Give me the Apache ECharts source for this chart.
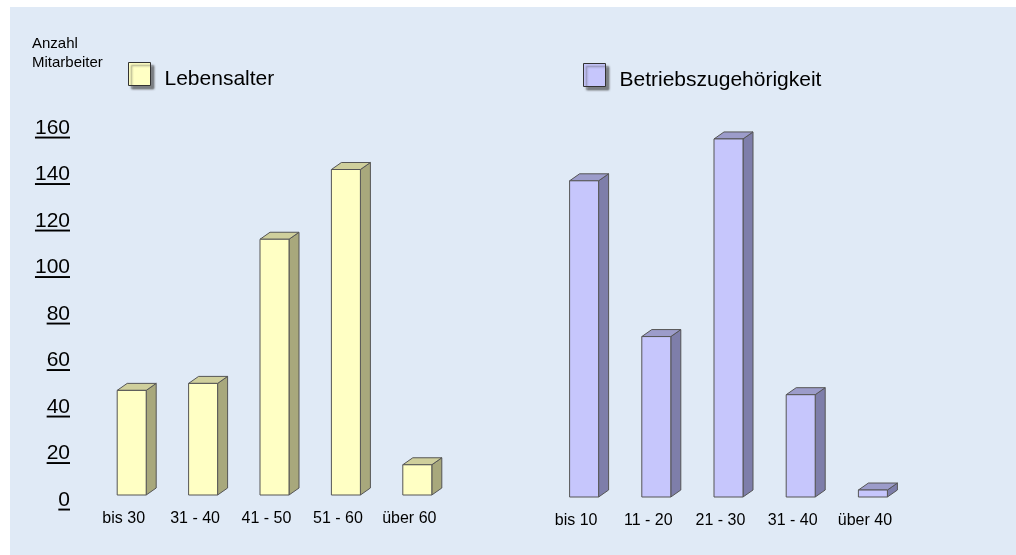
<!DOCTYPE html>
<html>
<head>
<meta charset="utf-8">
<script src="https://cdn.jsdelivr.net/npm/echarts@6/dist/echarts.min.js"></script>
<style>
  html, body { margin: 0; padding: 0; background: #fff; }
  #chart { width: 1016px; height: 555px; }
</style>
</head>
<body>
<div id="chart"></div>
<script>
// data
const ageCategories = ['bis 30', '31 - 40', '41 - 50', '51 - 60', 'über 60'];
const ageValues = [45, 48, 110, 140, 13];
const tenureCategories = ['bis 10', '11 - 20', '21 - 30', '31 - 40', 'über 40'];
const tenureValues = [136, 69, 154, 44, 3];
const yTicks = [0, 20, 40, 60, 80, 100, 120, 140, 160];

const FONT = 'Arial, "Liberation Sans", sans-serif';

// small canvas used as an underline background for the y labels
let underline = document.createElement('canvas');
underline.width = 8;
underline.height = 22;
let uctx = underline.getContext('2d');
uctx.fillStyle = '#000';
uctx.fillRect(0, 20, 8, 2);

// 3d bar: front face, top face, right side
function bar3D(colors) {
  return function (params, api) {
    let base = api.coord([api.value(0), 0]);
    let top = api.coord([api.value(0), api.value(1)]);
    let w = 29, dx = 10, dy = 7;
    let x0 = base[0] - w / 2, x1 = base[0] + w / 2;
    let yb = base[1], yt = top[1];
    let stroke = { stroke: '#555', lineWidth: 1 };
    return {
      type: 'group',
      children: [
        {
          type: 'polygon',
          shape: { points: [[x1, yt], [x1 + dx, yt - dy], [x1 + dx, yb - dy], [x1, yb]] },
          style: Object.assign({ fill: colors.side }, stroke)
        },
        {
          type: 'polygon',
          shape: { points: [[x0, yt], [x0 + dx, yt - dy], [x1 + dx, yt - dy], [x1, yt]] },
          style: Object.assign({ fill: colors.top }, stroke)
        },
        {
          type: 'rect',
          shape: { x: x0, y: yt, width: w, height: yb - yt },
          style: Object.assign({ fill: colors.front }, stroke)
        }
      ]
    };
  };
}

const yellow = { front: '#ffffc4', top: '#cfcf9c', side: '#a8a87c' };
const purple = { front: '#c6c6fc', top: '#9c9cca', side: '#7e7eaa' };

let myChart = echarts.init(document.getElementById('chart'));

let yAxisBase = {
  type: 'value',
  min: 0,
  max: 160,
  interval: 20,
  axisLine: { show: false },
  axisTick: { show: false },
  splitLine: { show: false }
};

let xAxisBase = {
  type: 'category',
  axisLine: { show: false },
  axisTick: { show: false },
  axisLabel: {
    color: '#000',
    fontFamily: FONT,
    fontSize: 16,
    margin: 16,
    padding: [0, 16, 0, 0]
  }
};

let legendBase = {
  orient: 'horizontal',
  icon: 'rect',
  itemWidth: 22,
  itemHeight: 23,
  selectedMode: false,
  formatter: function (name) { return '{t|' + name + '}'; },
  textStyle: {
    color: '#000',
    fontFamily: FONT,
    fontSize: 21,
    rich: {
      t: { color: '#000', fontFamily: FONT, fontSize: 21, padding: [10, 0, 0, 9] }
    }
  },
  itemStyle: {
    borderColor: '#333',
    borderWidth: 1,
    shadowColor: 'rgba(60,60,60,0.6)',
    shadowBlur: 2,
    shadowOffsetX: 3,
    shadowOffsetY: 3
  }
};

let option = {
  backgroundColor: '#fff',
  animation: false,
  graphic: [
    {
      type: 'rect',
      z: -10,
      silent: true,
      shape: { x: 10, y: 7, width: 1006, height: 548 },
      style: { fill: '#e0eaf6' }
    }
  ],
  title: {
    text: 'Anzahl\nMitarbeiter',
    left: 27,
    top: 29,
    textStyle: { color: '#000', fontFamily: FONT, fontSize: 15, fontWeight: 'normal', lineHeight: 19 }
  },
  legend: [
    Object.assign({}, legendBase, { left: 123, top: 57, data: ['Lebensalter'] }),
    Object.assign({}, legendBase, { left: 578, top: 58, data: ['Betriebszugehörigkeit'] })
  ],
  grid: [
    { left: 96, width: 357, top: 123, height: 372 },
    { left: 548, width: 361, top: 125, height: 372 }
  ],
  xAxis: [
    Object.assign({}, xAxisBase, { gridIndex: 0, data: ageCategories }),
    Object.assign({}, xAxisBase, { gridIndex: 1, data: tenureCategories })
  ],
  yAxis: [
    Object.assign({}, yAxisBase, {
      gridIndex: 0,
      axisLabel: {
        margin: 26,
        padding: [10, 0, 0, 0],
        customValues: yTicks,
        formatter: function (v) { return '{u|' + v + '}'; },
        rich: {
          u: {
            color: '#000',
            fontFamily: FONT,
            fontSize: 21,
            lineHeight: 22,
            backgroundColor: { image: underline }
          }
        }
      }
    }),
    Object.assign({}, yAxisBase, { gridIndex: 1, axisLabel: { show: false } })
  ],
  series: [
    {
      name: 'Lebensalter',
      type: 'custom',
      xAxisIndex: 0,
      yAxisIndex: 0,
      itemStyle: { color: yellow.front },
      renderItem: bar3D(yellow),
      encode: { x: 0, y: 1 },
      data: ageValues.map(function (v, i) { return [i, v]; })
    },
    {
      name: 'Betriebszugehörigkeit',
      type: 'custom',
      xAxisIndex: 1,
      yAxisIndex: 1,
      itemStyle: { color: purple.front },
      renderItem: bar3D(purple),
      encode: { x: 0, y: 1 },
      data: tenureValues.map(function (v, i) { return [i, v]; })
    }
  ]
};

option && myChart.setOption(option);
</script>
</body>
</html>
